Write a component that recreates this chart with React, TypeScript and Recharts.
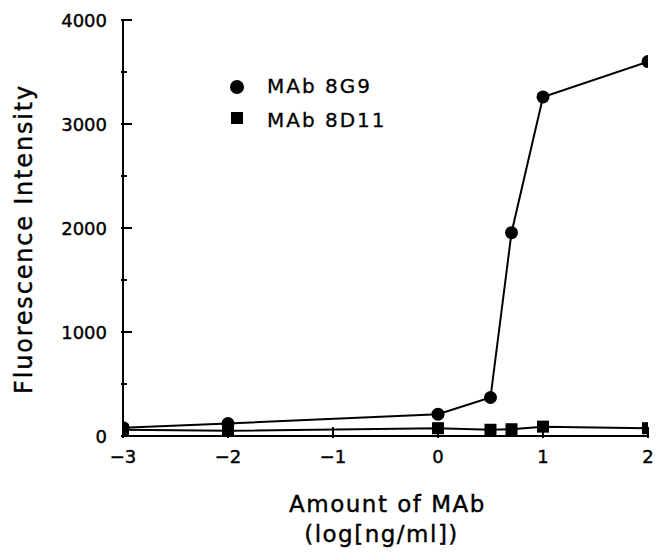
import React from 'react';
import { LineChart, Line, XAxis, YAxis } from 'recharts';

const doses = [-3, -2, 0, 0.5, 0.7, 1, 2];
const mab8G9 = [80, 120, 210, 370, 1955, 3260, 3600];
const mab8D11 = [60, 50, 75, 60, 65, 90, 75];
const xTicks = [-3, -2, -1, 0, 1, 2];
const yTicks = [0, 500, 1000, 1500, 2000, 2500, 3000, 3500, 4000];
const seriesNames = ['MAb 8G9', 'MAb 8D11'];

const data = doses.map((x, i) => ({ x, g9: mab8G9[i], d11: mab8D11[i] }));

const FONT = '"DejaVu Sans", sans-serif';

const fmtX = (v: number) => (v < 0 ? '\u2212' + Math.abs(v) : String(v));

const YTick = (p: any) => {
  const { x, y, payload } = p;
  const v = payload.value;
  const major = v % 1000 === 0;
  return (
    <g>
      <line x1={x} x2={x + (major ? 11 : 6)} y1={y} y2={y} stroke="#000" strokeWidth={2} />
      {major && (
        <text x={x - 14} y={y} dy={6.5} textAnchor="end" fontFamily={FONT} fontSize={18} fill="#000" stroke="#000" strokeWidth={0.4}>
          {v}
        </text>
      )}
    </g>
  );
};

const XTick = (p: any) => {
  const { x, y, payload } = p;
  return (
    <g>
      <line x1={x} x2={x} y1={y} y2={y - 11} stroke="#000" strokeWidth={2} />
      <text x={x} y={y + 25} textAnchor="middle" fontFamily={FONT} fontSize={18} fill="#000" stroke="#000" strokeWidth={0.4}>
        {fmtX(payload.value)}
      </text>
    </g>
  );
};

const CircleDot = (p: any) => {
  const { cx, cy, index } = p;
  return <circle key={`c-${index}`} cx={cx} cy={cy} r={6.5} fill="#000" />;
};

const SquareDot = (p: any) => {
  const { cx, cy, index } = p;
  return <rect key={`s-${index}`} x={cx - 6} y={cy - 6} width={12} height={12} fill="#000" />;
};

const XLabel = (p: any) => {
  const vb = p.viewBox || {};
  const cx = vb.x + vb.width / 2;
  return (
    <g>
      <text x={cx + 2} y={vb.y + 76} textAnchor="middle" fontFamily={FONT} fontSize={23} letterSpacing={1.5} fill="#000" stroke="#000" strokeWidth={0.4}>
        Amount of MAb
      </text>
      <text x={cx - 4} y={vb.y + 106} textAnchor="middle" fontFamily={FONT} fontSize={23} letterSpacing={1.5} fill="#000" stroke="#000" strokeWidth={0.4}>
        (log[ng/ml])
      </text>
    </g>
  );
};

const YLabel = (p: any) => {
  const vb = p.viewBox || {};
  const cx = 24;
  const cy = vb.y + vb.height / 2 + 11;
  return (
    <text
      x={cx}
      y={cy}
      transform={`rotate(-90, ${cx}, ${cy})`}
      textAnchor="middle"
      fontFamily={FONT}
      fontSize={24}
      letterSpacing={1.8}
      fill="#000"
      stroke="#000"
      strokeWidth={0.4}
    >
      Fluorescence Intensity
    </text>
  );
};

const LegendBox = () => (
  <svg width={170} height={70} style={{ position: 'absolute', left: 220, top: 60 }}>
    <circle cx={9} cy={19} r={7} fill="#000" />
    <text x={39} y={25} fontFamily={FONT} fontSize={20} letterSpacing={2} fill="#000" stroke="#000" strokeWidth={0.3}>
      {seriesNames[0]}
    </text>
    <rect x={3} y={44} width={12} height={12} fill="#000" />
    <text x={39} y={59} fontFamily={FONT} fontSize={20} letterSpacing={2} fill="#000" stroke="#000" strokeWidth={0.3}>
      {seriesNames[1]}
    </text>
  </svg>
);

export default function App() {
  return (
    <div style={{ position: 'relative', width: 650, height: 549 }}>
      <LineChart width={650} height={549} data={data} margin={{ top: 12, right: 10, left: 0, bottom: 0 }}>
        <XAxis
          dataKey="x"
          type="number"
          domain={[-3, 2]}
          ticks={xTicks}
          allowDataOverflow
          tickSize={0}
          tickLine={false}
          tick={XTick}
          axisLine={{ stroke: '#000', strokeWidth: 2 }}
          height={121}
          label={<XLabel />}
        />
        <YAxis
          type="number"
          domain={[0, 4000]}
          ticks={yTicks}
          interval={0}
          tickSize={0}
          tickLine={false}
          tick={YTick}
          axisLine={{ stroke: '#000', strokeWidth: 2 }}
          width={115}
          label={<YLabel />}
        />
        <Line
          type="linear"
          dataKey="d11"
          name={seriesNames[1]}
          stroke="#000"
          strokeWidth={2}
          dot={SquareDot}
          isAnimationActive={false}
        />
        <Line
          type="linear"
          dataKey="g9"
          name={seriesNames[0]}
          stroke="#000"
          strokeWidth={2}
          dot={CircleDot}
          isAnimationActive={false}
        />
      </LineChart>
      <LegendBox />
    </div>
  );
}
